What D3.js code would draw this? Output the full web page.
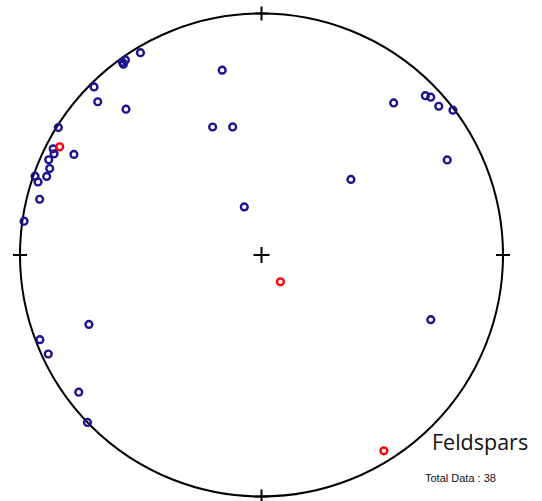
<!DOCTYPE html>
<meta charset="utf-8">
<html>
<head>
<style>
    body { margin: 0; background: #fff; }
    .primitive { fill: none; stroke: #000; stroke-width: 2px; }
    .tick { stroke: #000; stroke-width: 2px; }
    .pole { fill: none; stroke-width: 2.4px; }
</style>
</head>
<body>
<svg width="542" height="501"></svg>
<script src="https://d3js.org/d3.v7.min.js"></script>
<script>

    // feldspar poles, trend / plunge in degrees (lower hemisphere)
    var trend  = [329.1, 324.2, 325.1, 324.1, 348.0, 315.1, 313.1, 317.1, 339.1, 347.3,
                  302.1, 298.2, 297.0, 296.0, 298.2, 294.1, 292.2, 289.2, 290.1, 288.1,
                  284.1, 340.3, 278.1, 41.0, 45.8, 47.0, 50.0, 52.9, 62.9, 49.8,
                  248.1, 249.1, 245.1, 233.1, 226.1, 144.8, 110.9, 148.0];
    var plunge = [2.7, 1.8, 1.7, 2.8, 22.8, 2.0, 7.9, 18.7, 42.7, 44.8,
                  0.8, 5.8, 3.6, 5.0, 12.9, 3.9, 5.9, 0.8, 5.9, 3.0,
                  5.9, 72.8, 0.8, 17.7, 6.0, 4.7, 4.7, 0.7, 14.7, 49.9,
                  24.0, 2.0, 3.0, 6.0, 0.0, 79.0, 25.9, 4.9];
    var group  = ["b","b","b","b","b","b","b","b","b","b",
                  "b","r","b","b","b","b","b","b","b","b",
                  "b","b","b","b","b","b","b","b","b","b",
                  "b","b","b","b","b","r","b","r"];

    var title = "Feldspars";

    var svg = d3.select("svg");
    var cx = 261.5, cy = 255, R = 241.5;

    // Schmidt net: equal-area, centre = vertical
    var proj = d3.geoAzimuthalEqualArea()
        .rotate([0, -90])
        .scale(R / Math.SQRT2)
        .translate([cx, cy]);

    var color = d3.scaleOrdinal().domain(["b", "r"]).range(["#1c138e", "#ff0000"]);

    svg.append("circle")
        .attr("class", "primitive")
        .attr("cx", cx).attr("cy", cy).attr("r", R);

    // crosses at centre and N, E, S, W
    var crosses = [[0, 90, 8], [180, 0, 7], [90, 0, 7], [0, 0, 7], [270, 0, 7]];
    crosses.forEach(function(c) {
        var p = proj([c[0], c[1]]);
        svg.append("line").attr("class", "tick")
            .attr("x1", p[0] - c[2]).attr("x2", p[0] + c[2])
            .attr("y1", p[1]).attr("y2", p[1]);
        svg.append("line").attr("class", "tick")
            .attr("x1", p[0]).attr("x2", p[0])
            .attr("y1", p[1] - c[2]).attr("y2", p[1] + c[2]);
    });

    var data = trend.map(function(t, i) {
        return { t: t, p: plunge[i], g: group[i] };
    });
    // red ones on top
    var drawOrder = data.filter(d => d.g == "b").concat(data.filter(d => d.g == "r"));

    svg.append("g")
        .selectAll("circle")
        .data(drawOrder)
        .enter().append("circle")
        .attr("class", "pole")
        .attr("r", 3.4)
        .attr("stroke", d => color(d.g))
        .attr("cx", d => proj([180 - d.t, d.p])[0])
        .attr("cy", d => proj([180 - d.t, d.p])[1]);

    svg.append("text")
        .attr("x", 432).attr("y", 450)
        .style("font-family", "'Open Sans', sans-serif")
        .style("font-size", "21.5px")
        .attr("fill", "#111")
        .text(title);

    svg.append("text")
        .attr("x", 425).attr("y", 482)
        .style("font-family", "'Liberation Sans', Arial, sans-serif")
        .style("font-size", "11px")
        .attr("fill", "#111")
        .text("Total Data : " + data.length);

</script>
</body>
</html>
